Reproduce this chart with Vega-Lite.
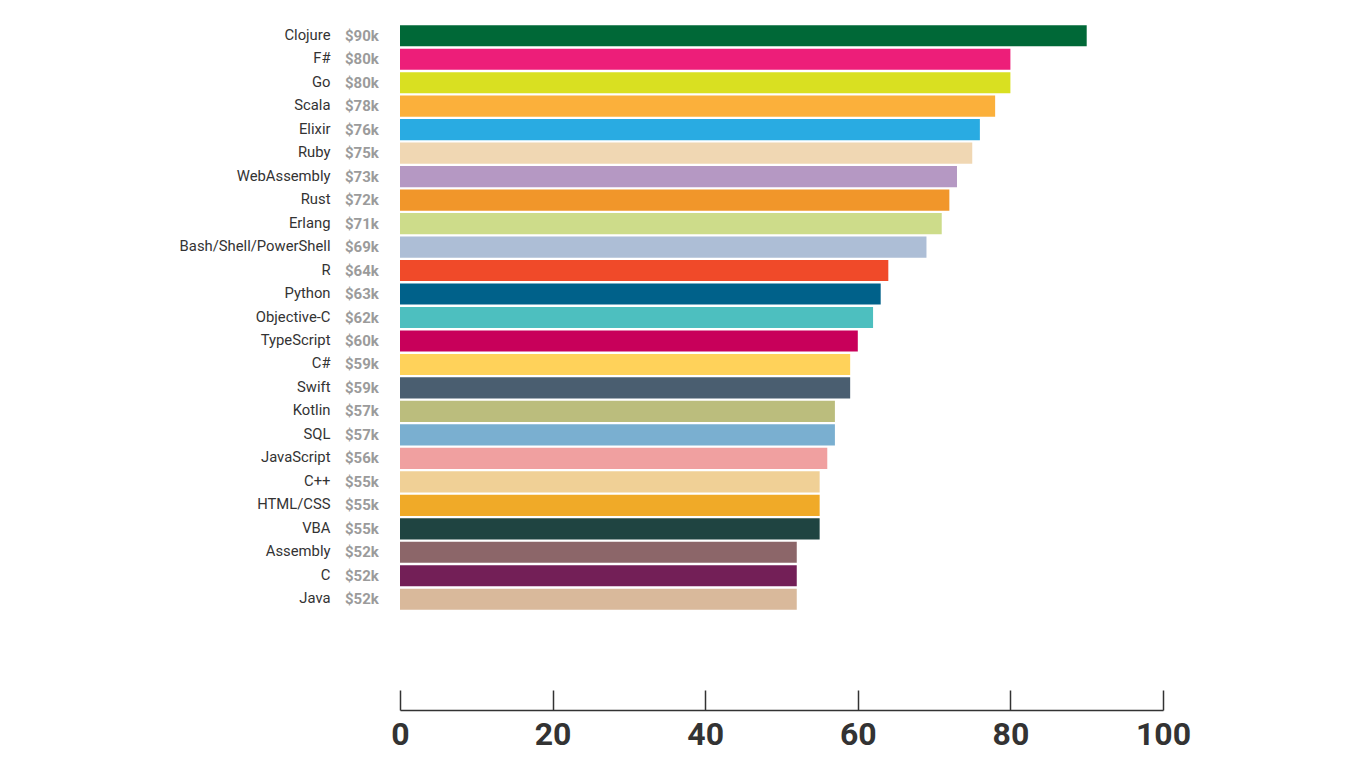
{
  "$schema": "https://vega.github.io/schema/vega-lite/v6.json",
  "width": 763,
  "height": 587,
  "autosize": "none",
  "padding": {"left": 400, "top": 24, "right": 203, "bottom": 157},
  "background": "white",
  "config": {"view": {"stroke": null}, "font": "Roboto"},
  "data": {
    "values": [
      {"language": "Clojure", "salary": 90, "label": "$90k"},
      {"language": "F#", "salary": 80, "label": "$80k"},
      {"language": "Go", "salary": 80, "label": "$80k"},
      {"language": "Scala", "salary": 78, "label": "$78k"},
      {"language": "Elixir", "salary": 76, "label": "$76k"},
      {"language": "Ruby", "salary": 75, "label": "$75k"},
      {"language": "WebAssembly", "salary": 73, "label": "$73k"},
      {"language": "Rust", "salary": 72, "label": "$72k"},
      {"language": "Erlang", "salary": 71, "label": "$71k"},
      {"language": "Bash/Shell/PowerShell", "salary": 69, "label": "$69k"},
      {"language": "R", "salary": 64, "label": "$64k"},
      {"language": "Python", "salary": 63, "label": "$63k"},
      {"language": "Objective-C", "salary": 62, "label": "$62k"},
      {"language": "TypeScript", "salary": 60, "label": "$60k"},
      {"language": "C#", "salary": 59, "label": "$59k"},
      {"language": "Swift", "salary": 59, "label": "$59k"},
      {"language": "Kotlin", "salary": 57, "label": "$57k"},
      {"language": "SQL", "salary": 57, "label": "$57k"},
      {"language": "JavaScript", "salary": 56, "label": "$56k"},
      {"language": "C++", "salary": 55, "label": "$55k"},
      {"language": "HTML/CSS", "salary": 55, "label": "$55k"},
      {"language": "VBA", "salary": 55, "label": "$55k"},
      {"language": "Assembly", "salary": 52, "label": "$52k"},
      {"language": "C", "salary": 52, "label": "$52k"},
      {"language": "Java", "salary": 52, "label": "$52k"}
    ]
  },
  "encoding": {
    "y": {
      "field": "language",
      "type": "nominal",
      "sort": null,
      "scale": {"paddingInner": 0.1, "paddingOuter": 0.05},
      "axis": {
        "title": null,
        "domain": false,
        "ticks": false,
        "labelPadding": 70,
        "labelFont": "Roboto",
        "labelFontSize": 14.8,
        "labelColor": "#333333"
      }
    }
  },
  "layer": [
    {
      "mark": {"type": "bar"},
      "encoding": {
        "x": {
          "field": "salary",
          "type": "quantitative",
          "scale": {"domain": [0, 100], "nice": false},
          "axis": {
            "title": null,
            "orient": "bottom",
            "offset": 99,
            "values": [0, 20, 40, 60, 80, 100],
            "grid": false,
            "tickSize": -20,
            "tickColor": "#333333",
            "tickWidth": 1.5,
            "domainColor": "#333333",
            "domainWidth": 1.5,
            "labelFont": "Roboto",
            "labelFontSize": 32,
            "labelFontWeight": "bold",
            "labelColor": "#333333",
            "labelPadding": 29,
            "labelFlush": false,
            "labelOverlap": false
          }
        },
        "color": {
          "field": "language",
          "type": "nominal",
          "legend": null,
          "scale": {
            "domain": ["Clojure", "F#", "Go", "Scala", "Elixir", "Ruby", "WebAssembly", "Rust", "Erlang", "Bash/Shell/PowerShell", "R", "Python", "Objective-C", "TypeScript", "C#", "Swift", "Kotlin", "SQL", "JavaScript", "C++", "HTML/CSS", "VBA", "Assembly", "C", "Java"],
            "range": ["#006837", "#ed1e79", "#d9e021", "#fbb03b", "#29abe2", "#f0d7b3", "#b598c3", "#f1962a", "#cddc8a", "#adbed6", "#f04a29", "#00618a", "#4dbfbf", "#c8005a", "#ffd25a", "#4a5e70", "#bbbd7d", "#7aafd0", "#f0a0a0", "#f0d096", "#f0aa28", "#1f4441", "#8c6669", "#731f57", "#d9b99b"]
          }
        }
      }
    },
    {
      "mark": {"type": "text", "align": "left", "baseline": "middle", "dx": -55, "font": "Roboto", "fontWeight": "bold", "fontSize": 15, "color": "#9b9b9b"},
      "encoding": {
        "x": {"datum": 0, "type": "quantitative"},
        "text": {"field": "label"}
      }
    }
  ]
}
